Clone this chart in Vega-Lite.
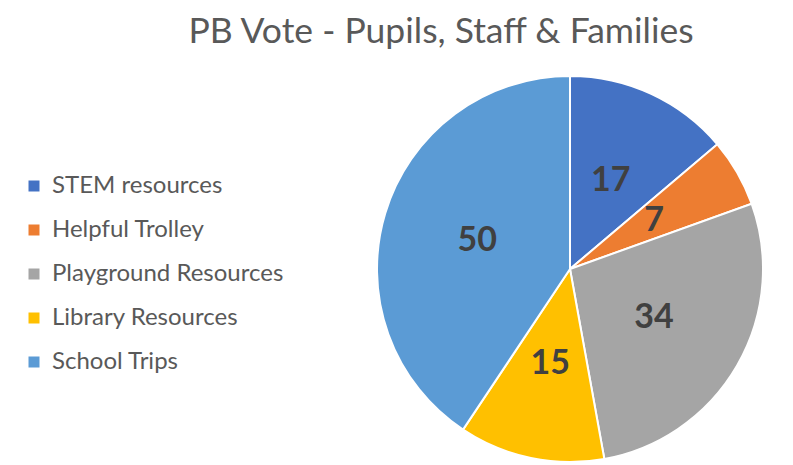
{
  "$schema": "https://vega.github.io/schema/vega-lite/v6.json",
  "width": 384,
  "height": 384,
  "autosize": {"type": "none"},
  "padding": {"left": 378, "top": 77, "right": 31, "bottom": 4},
  "background": "white",
  "config": {"view": {"stroke": null}, "font": "Lato"},
  "title": {
    "text": "PB Vote - Pupils, Staff & Families",
    "fontSize": 35.5,
    "font": "Lato",
    "fontWeight": "normal",
    "color": "#595959",
    "anchor": "middle",
    "dx": -129,
    "offset": 22
  },
  "data": {
    "values": [
      {"item": "STEM resources", "votes": 17, "order": 1},
      {"item": "Helpful Trolley", "votes": 7, "order": 2},
      {"item": "Playground Resources", "votes": 34, "order": 3},
      {"item": "Library Resources", "votes": 15, "order": 4},
      {"item": "School Trips", "votes": 50, "order": 5}
    ]
  },
  "encoding": {
    "theta": {"field": "votes", "type": "quantitative", "stack": true},
    "order": {"field": "order", "type": "quantitative"},
    "color": {
      "field": "item",
      "type": "nominal",
      "sort": ["STEM resources", "Helpful Trolley", "Playground Resources", "Library Resources", "School Trips"],
      "scale": {
        "domain": ["STEM resources", "Helpful Trolley", "Playground Resources", "Library Resources", "School Trips"],
        "range": ["#4472C4", "#ED7D31", "#A5A5A5", "#FFC000", "#5B9BD5"]
      },
      "legend": {
        "title": null,
        "orient": "none",
        "legendX": -356,
        "legendY": 97,
        "symbolType": "square",
        "symbolSize": 121,
        "symbolStrokeWidth": 0,
        "labelFontSize": 24,
        "labelFont": "Lato",
        "labelColor": "#595959",
        "labelOffset": 6,
        "labelLimit": 0,
        "rowPadding": 20
      }
    }
  },
  "layer": [
    {
      "mark": {"type": "arc", "outerRadius": 193, "stroke": "white", "strokeWidth": 2}
    },
    {
      "mark": {"type": "text", "radius": 97, "fontSize": 34, "fontWeight": "bold", "font": "Lato", "fill": "#404040"},
      "encoding": {
        "text": {"field": "votes", "type": "quantitative"},
        "color": {"value": "#404040"}
      }
    }
  ]
}
